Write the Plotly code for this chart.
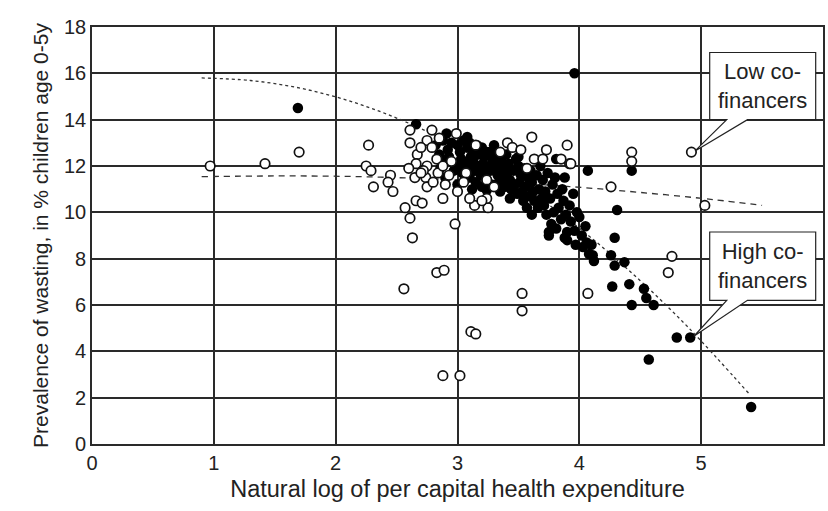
import plotly.graph_objects as go

# High co-financers (filled markers)
high_pts = [
    (1.69, 14.5), (2.66, 13.8), (3.96, 16.0), (2.91, 13.4), (3.08, 13.25),
    (2.82, 12.9), (2.85, 12.5), (2.88, 13.1), (2.90, 12.2), (2.86, 11.9), (2.92, 12.7),
    (2.95, 13.0), (2.93, 12.4), (2.97, 11.8), (2.90, 11.5),
    (3.00, 12.9), (3.02, 12.6), (3.03, 12.3), (3.01, 12.0), (3.05, 13.1), (3.04, 11.7),
    (3.06, 11.4), (3.00, 11.2), (3.08, 12.8), (3.07, 12.1), (3.09, 11.9),
    (3.10, 13.0), (3.12, 12.7), (3.11, 12.4), (3.13, 12.2), (3.14, 11.8), (3.10, 11.5),
    (3.15, 11.3), (3.12, 11.0), (3.16, 12.9), (3.17, 12.5), (3.18, 12.0), (3.19, 11.6),
    (3.20, 12.8), (3.22, 12.4), (3.21, 12.1), (3.23, 11.7), (3.24, 11.4), (3.20, 11.1),
    (3.25, 12.6), (3.26, 12.0), (3.27, 11.8), (3.28, 11.2), (3.29, 12.3), (3.24, 10.95),
    (3.30, 12.7), (3.32, 12.4), (3.31, 12.0), (3.33, 11.6), (3.34, 11.3), (3.35, 10.9),
    (3.36, 12.2), (3.37, 11.9), (3.38, 11.5), (3.39, 11.1), (3.30, 12.9),
    (3.40, 12.5), (3.42, 12.1), (3.41, 11.7), (3.43, 11.4), (3.44, 11.0), (3.43, 10.6),
    (3.46, 11.8), (3.47, 11.2), (3.48, 12.3), (3.49, 10.8),
    (3.50, 12.0), (3.52, 11.6), (3.51, 11.3), (3.53, 10.9), (3.54, 10.5), (3.55, 11.9),
    (3.56, 11.1), (3.57, 10.2), (3.58, 11.5), (3.59, 10.7), (3.50, 12.4),
    (3.60, 11.8), (3.61, 11.3), (3.62, 10.9), (3.63, 10.5), (3.61, 9.9), (3.65, 11.6),
    (3.66, 10.2), (3.67, 11.0), (3.68, 12.0), (3.69, 10.6),
    (3.70, 11.4), (3.72, 10.9), (3.71, 10.3), (3.73, 9.9), (3.75, 9.15), (3.75, 9.0),
    (3.74, 11.7), (3.76, 10.6), (3.77, 9.5), (3.78, 11.2), (3.79, 10.0),
    (3.80, 11.5), (3.81, 12.3), (3.82, 10.8), (3.81, 9.3), (3.83, 10.2), (3.85, 9.7),
    (3.86, 11.0), (3.88, 11.5), (3.88, 8.9), (3.87, 10.5), (3.89, 9.9),
    (3.90, 9.15), (3.90, 8.8), (3.92, 10.3), (3.93, 9.6), (3.95, 10.8), (3.96, 9.2),
    (3.97, 8.6), (3.98, 10.0),
    (4.00, 9.8), (4.02, 9.0), (4.03, 8.5), (4.05, 9.4), (4.06, 8.7), (4.07, 11.8),
    (4.08, 8.2), (4.10, 8.6), (4.11, 8.15), (4.12, 7.9),
    (4.26, 8.15), (4.27, 6.8), (4.29, 8.9), (4.29, 7.7), (4.31, 10.1), (4.37, 7.85),
    (4.41, 6.9), (4.43, 6.0), (4.43, 11.8), (4.53, 6.7), (4.55, 6.3), (4.61, 6.0),
    (4.57, 3.65), (4.80, 4.6), (4.91, 4.6), (5.41, 1.6),
]

# Low co-financers (hollow markers)
low_pts = [
    (0.97, 12.0), (1.42, 12.1), (1.70, 12.6), (2.27, 12.9), (2.25, 12.0), (2.29, 11.8),
    (2.31, 11.1), (2.45, 11.6), (2.43, 11.3), (2.47, 10.9),
    (2.61, 13.55), (2.79, 13.55), (2.61, 13.0), (2.75, 13.1), (2.79, 12.8), (2.67, 12.5),
    (2.66, 12.1), (2.75, 12.0), (2.65, 11.5), (2.74, 11.5), (2.84, 11.7), (2.93, 11.6),
    (2.99, 13.4), (3.07, 11.7), (3.24, 11.4), (3.30, 11.1),
    (2.75, 11.1), (2.66, 10.5), (2.71, 10.4), (2.57, 10.2), (2.61, 9.75), (2.63, 8.9),
    (2.88, 10.6), (3.00, 10.9), (2.98, 9.5), (3.14, 10.3), (3.25, 10.2), (3.24, 10.6),
    (2.83, 7.4), (2.89, 7.5), (2.56, 6.7), (3.53, 6.5), (3.53, 5.75), (3.11, 4.85),
    (3.15, 4.75), (2.88, 2.95), (3.02, 2.95), (4.07, 6.5), (4.76, 8.1), (4.73, 7.4),
    (4.92, 12.6), (4.43, 12.6), (4.43, 12.2), (4.26, 11.1), (5.03, 10.3), (3.92, 12.1),
    (3.61, 13.25), (3.90, 12.9), (3.41, 13.0), (3.73, 12.7), (3.63, 12.3), (3.70, 12.3),
    (3.85, 12.3), (3.93, 12.1), (3.57, 11.9),
    (2.70, 12.8), (2.83, 12.3), (2.88, 12.0), (2.72, 11.8), (2.95, 12.2), (2.80, 11.3),
    (2.90, 11.2), (3.05, 11.3), (2.60, 11.9), (2.70, 11.7), (2.85, 13.2), (3.15, 12.9),
    (3.45, 12.8), (3.35, 12.6), (3.52, 12.7), (3.20, 10.5), (3.10, 10.6),
]

high_x = [p[0] for p in high_pts]
high_y = [p[1] for p in high_pts]
low_x = [p[0] for p in low_pts]
low_y = [p[1] for p in low_pts]

# Trend lines
high_trend_x = [0.9, 1.3, 1.7, 2.1, 2.5, 2.9, 3.3, 3.7, 4.1, 4.5, 4.9, 5.4]
high_trend_y = [15.8, 15.69, 15.37, 14.83, 14.07, 13.1, 11.91, 10.51, 8.89, 7.05, 5.0, 2.13]
low_trend_x = [0.9, 1.5, 2.1, 2.7, 3.3, 3.9, 4.5, 5.1, 5.5]
low_trend_y = [11.54, 11.57, 11.55, 11.46, 11.32, 11.12, 10.86, 10.55, 10.3]

x_ticks = [0, 1, 2, 3, 4, 5, 6]
y_ticks = [0, 2, 4, 6, 8, 10, 12, 14, 16, 18]

x_title = "Natural log of per capital health expenditure"
y_title = "Prevalence of wasting, in % children age 0-5y"
low_label = "Low co-<br>financers"
high_label = "High co-<br>financers"

fig = go.Figure()

fig.add_trace(go.Scatter(
    x=high_trend_x, y=high_trend_y, mode="lines", line_shape="spline",
    line=dict(color="#333333", width=1.3, dash="dot"), hoverinfo="skip", showlegend=False))
fig.add_trace(go.Scatter(
    x=low_trend_x, y=low_trend_y, mode="lines", line_shape="spline",
    line=dict(color="#333333", width=1.3, dash="6px,5px"), hoverinfo="skip", showlegend=False))

fig.add_trace(go.Scatter(
    x=high_x, y=high_y, mode="markers", name="High co-financers",
    marker=dict(symbol="circle", size=10.5, color="black", line=dict(color="black", width=0)),
    showlegend=False))
fig.add_trace(go.Scatter(
    x=low_x, y=low_y, mode="markers", name="Low co-financers",
    marker=dict(symbol="circle", size=9.5, color="white", line=dict(color="#111111", width=1.7)),
    showlegend=False))

font_ticks = dict(family="Liberation Sans Narrow, Arial Narrow, Liberation Sans, Arial", size=20, color="#222")
font_text = dict(family="Liberation Sans, Arial", color="#222")

def callout(box_x0, box_x1, box_y0, box_y1, w0, w1, tip_x, tip_y):
    path = (f"M {box_x0},{box_y1} L {box_x1},{box_y1} L {box_x1},{box_y0} "
            f"L {w1},{box_y0} L {tip_x},{tip_y} L {w0},{box_y0} L {box_x0},{box_y0} Z")
    fig.add_shape(type="path", path=path, xref="x", yref="y",
                  fillcolor="white", line=dict(color="#222", width=1.2), layer="above")

# Low co-financers callout, pointing at its labelled point
lo_tip = low_pts[50]
callout(5.07, 5.94, 14.0, 16.9, 5.21, 5.38, lo_tip[0] + 0.03, lo_tip[1] + 0.05)
fig.add_annotation(x=5.505, y=15.45, xref="x", yref="y", text=low_label, showarrow=False,
                   font=dict(size=22, **font_text), align="center")

hi_tip = high_pts[-2]
callout(5.07, 5.94, 6.2, 9.15, 5.21, 5.38, hi_tip[0] + 0.03, hi_tip[1] + 0.05)
fig.add_annotation(x=5.505, y=7.67, xref="x", yref="y", text=high_label, showarrow=False,
                   font=dict(size=22, **font_text), align="center")

fig.update_xaxes(range=[0, 6], tickvals=x_ticks, showgrid=True, gridcolor="#2a2a2a", gridwidth=1.6,
                 showline=True, linecolor="#2a2a2a", linewidth=1.6, mirror=True, zeroline=False,
                 ticks="", tickfont=font_ticks, title=dict(text=x_title, font=dict(size=23.5, **font_text), standoff=8))
fig.update_yaxes(range=[0, 18], tickvals=y_ticks, showgrid=True, gridcolor="#2a2a2a", gridwidth=1.6,
                 showline=True, linecolor="#2a2a2a", linewidth=1.6, mirror=True, zeroline=False,
                 ticks="", tickfont=font_ticks, title=dict(text=y_title, font=dict(size=21, **font_text), standoff=10))

fig.update_layout(width=828, height=511, margin=dict(l=92, r=3, t=27, b=67),
                  paper_bgcolor="white", plot_bgcolor="white", showlegend=False)

fig.write_html("out.html")
